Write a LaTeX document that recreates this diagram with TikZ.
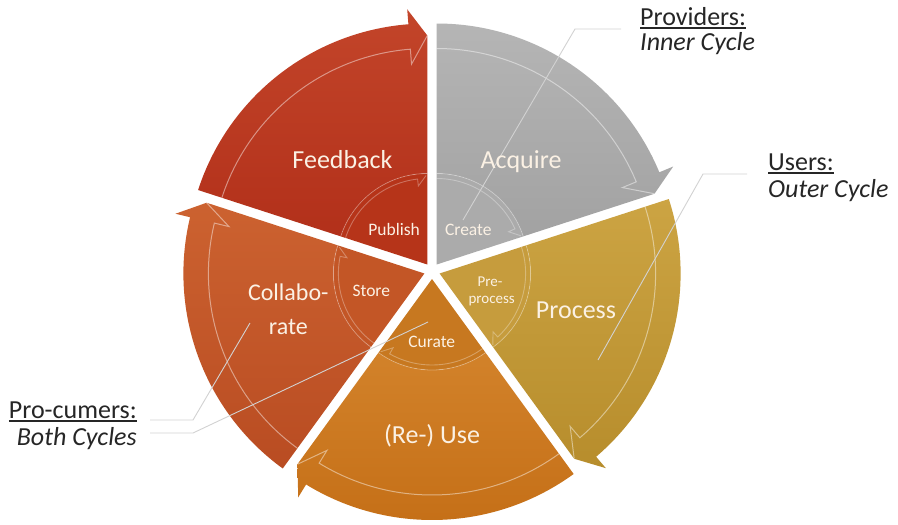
\documentclass[tikz,border=0pt]{standalone}
\usepackage{fontspec}
\setmainfont{Carlito}
\usetikzlibrary{arrows.meta}
\definecolor{cream}{HTML}{FBF1E4}
\definecolor{darktext}{HTML}{262626}
\definecolor{calloutgray}{HTML}{D2D2D2}
\definecolor{fbT}{HTML}{C3452A}
\definecolor{fbB}{HTML}{B2301A}
\definecolor{fbI}{HTML}{B63419}
\definecolor{aqT}{HTML}{B5B5B5}
\definecolor{aqB}{HTML}{A2A2A2}
\definecolor{aqI}{HTML}{ABABAB}
\definecolor{prT}{HTML}{CCA443}
\definecolor{prB}{HTML}{B78D2C}
\definecolor{prI}{HTML}{C69C3D}
\definecolor{ruT}{HTML}{D2822A}
\definecolor{ruB}{HTML}{C46E16}
\definecolor{ruI}{HTML}{C77820}
\definecolor{coT}{HTML}{CC6230}
\definecolor{coB}{HTML}{B94C22}
\definecolor{coI}{HTML}{C35626}
\newlength{\ullen}
\newcommand{\myul}[1]{\settowidth{\ullen}{#1}\rlap{\rule[-3.8pt]{\ullen}{1.6pt}}#1}
\newcommand{\pieseg}[6]{%
  \begin{scope}[shift={#1}]
    \pgfmathsetmacro{\segB}{#3+4.5}
    \pgfmathsetmacro{\segC}{#3+6.5}
    \pgfmathsetmacro{\segD}{#3+0.8}
    \path[top color=#4, bottom color=#5] (#2:91pt) -- (#2:241pt)
      arc[start angle=#2, end angle=\segB, radius=241pt] -- (\segB:256pt) -- (#3:229pt)
      -- (#3:91pt) arc[start angle=#3, end angle=#2, radius=91pt] -- cycle;
    \path[fill=#6] (0,0) -- (#2:91pt) arc[start angle=#2, end angle=#3, radius=91pt] -- cycle;
    \draw[hl] (#2:216pt) arc[start angle=#2, end angle=\segB, radius=216pt] -- (\segB:201pt) -- (#3:229pt);
    \draw[hl2] (#2:86pt) arc[start angle=#2, end angle=\segC, radius=86pt] -- (\segC:79pt) -- (\segD:89pt);
    \draw[segedge] (#2:91pt) arc[start angle=#2, end angle=#3, radius=91pt];
  \end{scope}}
\begin{document}
\begin{tikzpicture}[x=1pt,y=-1pt,
  hl/.style={draw=white, draw opacity=0.45, line width=1pt, line join=miter},
  hl2/.style={draw=white, draw opacity=0.3, line width=0.9pt, line join=miter},
  segedge/.style={draw=white, draw opacity=0.3, line width=0.8pt},
  lbl/.style={text=cream, font=\fontsize{26}{28}\selectfont, inner sep=0pt, anchor=base},
  mlbl/.style={text=cream, font=\fontsize{24}{26}\selectfont, inner sep=0pt, anchor=base},
  slbl/.style={text=cream, font=\fontsize{17.5}{19}\selectfont, inner sep=0pt, anchor=base},
  tlbl/.style={text=cream, font=\fontsize{15}{16}\selectfont, inner sep=0pt, anchor=base},
  callout/.style={draw=calloutgray, line width=0.9pt},
  side/.style={text=darktext, font=\fontsize{26}{28}\selectfont, inner sep=0pt},
  sideit/.style={text=darktext, font=\fontsize{26}{28}\selectfont\itshape, inner sep=0pt}]
\useasboundingbox (0,0) rectangle (898,525);
\fill[white] (0,0) rectangle (898,525);

% sectors
\pieseg{(427.3,264.5)}{162}{90}{fbT}{fbB}{fbI}
\pieseg{(436.7,264.5)}{90}{18}{aqT}{aqB}{aqI}
\pieseg{(439.6,273.5)}{18}{-54}{prT}{prB}{prI}
\pieseg{(432,279)}{-54}{-126}{ruT}{ruB}{ruI}
\pieseg{(424.4,273.5)}{-126}{-198}{coT}{coB}{coI}

% callout coordinates
\coordinate (provS) at (621,29);
\coordinate (provK) at (575,29);
\coordinate (provE) at (463,220);
\coordinate (usrS) at (747,174);
\coordinate (usrK) at (703,174);
\coordinate (usrE) at (598,360);
\coordinate (pcAS) at (150,420);
\coordinate (pcAK) at (193,420);
\coordinate (pcAE) at (250,323);
\coordinate (pcBS) at (150,433);
\coordinate (pcBK) at (193,433);
\coordinate (pcBE) at (428,322);
\draw[callout] (provS) -- (provK) -- (provE);
\draw[callout] (usrS) -- (usrK) -- (usrE);
\draw[callout] (pcAS) -- (pcAK) -- (pcAE);
\draw[callout] (pcBS) -- (pcBK) -- (pcBE);

% outer labels
\node[lbl] (fb) at (342.5,168.3) {Feedback};
\node[lbl] (aq) at (521,168.3) {Acquire};
\node[lbl] (pr) at (576,318.3) {Process};
\node[lbl] (ru) at (432,443) {(Re-) Use};
\node[mlbl] (co1) at (288.3,300.7) {Collabo-};
\node[mlbl] (co2) at (288.3,334) {rate};
% inner labels
\node[slbl] (pub) at (394.2,235) {Publish};
\node[slbl] (cre) at (468.3,235) {Create};
\node[slbl] (sto) at (371.3,296) {Store};
\node[slbl] (cur) at (431.7,347.3) {Curate};
\node[tlbl] (pre1) at (490,286.7) {Pre-};
\node[tlbl] (pre2) at (491.7,303.3) {process};

% side labels
\node[side, anchor=base west] (prov) at (640,25) {\myul{Providers:}};
\node[sideit, anchor=base west] (provb) at (640,50) {Inner Cycle};
\node[side, anchor=base west] (usr) at (768,170) {\myul{Users:}};
\node[sideit, anchor=base west] (usrb) at (768,197) {Outer Cycle};
\node[side, anchor=base east] (pc) at (137,418) {\myul{Pro-cumers:}};
\node[sideit, anchor=base east] (pcb) at (137,445) {Both Cycles};
\end{tikzpicture}
\end{document}
